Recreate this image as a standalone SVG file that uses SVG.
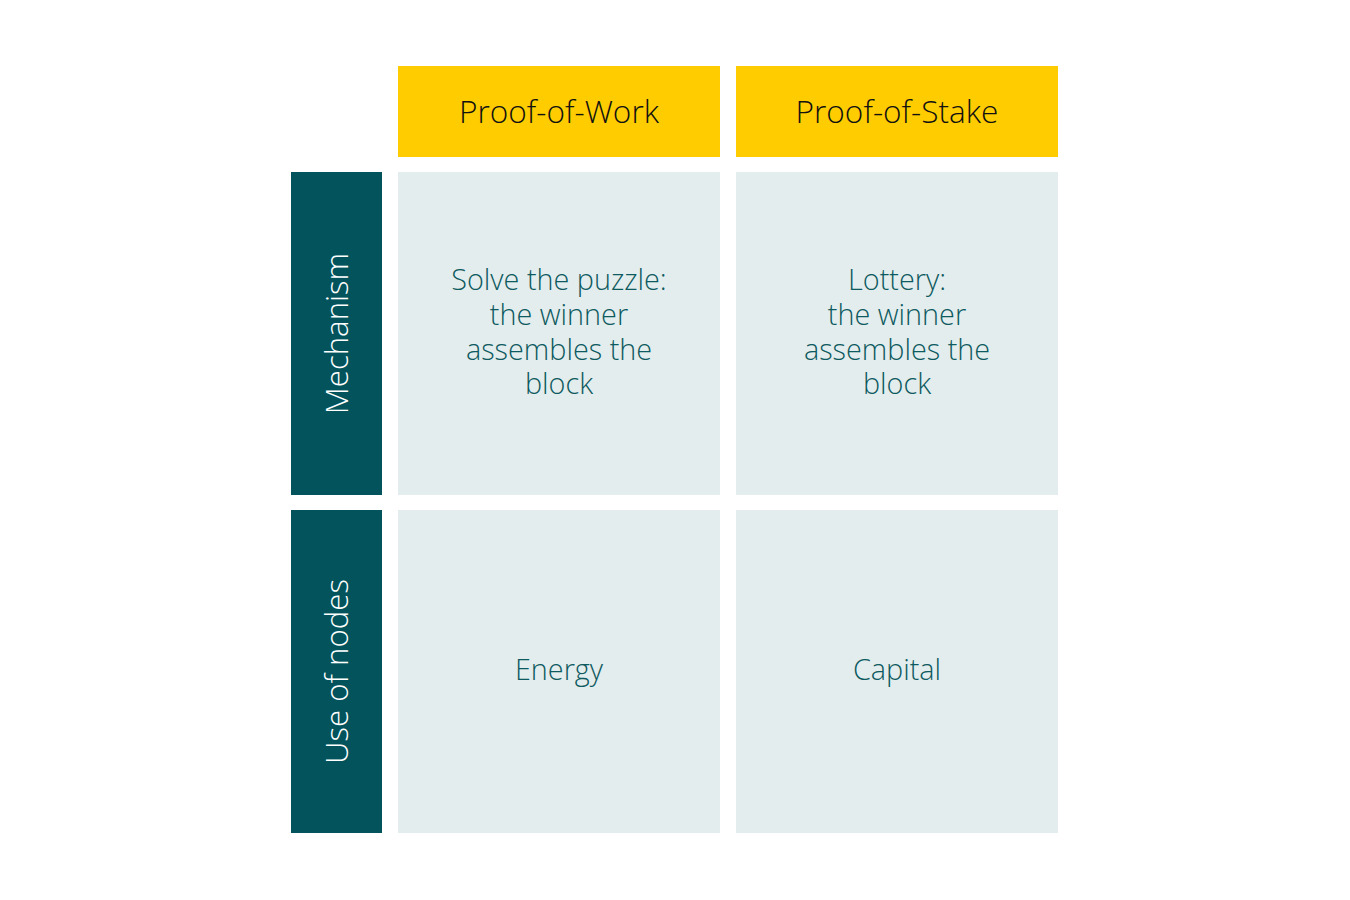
<svg xmlns="http://www.w3.org/2000/svg" width="1350" height="900" viewBox="0 0 1350 900">
<style>
.hdr{fill:#ffcc00}
.side{fill:#02535c}
.cell{fill:#e4eded}
text{font-family:"Open Sans","Noto Sans","Liberation Sans",sans-serif;text-anchor:middle;font-size:28.8px;font-weight:300}
.ht{fill:#111111;font-size:31.6px}
.st{fill:#ffffff;font-size:31.2px}
.ct{fill:#0d5a60}
</style>
<rect width="1350" height="900" fill="#ffffff"/>
<g id="hdr-pow"><rect class="hdr" x="398" y="66" width="322" height="91"/><text class="ht" x="559" y="122.5">Proof-of-Work</text></g>
<g id="hdr-pos"><rect class="hdr" x="736" y="66" width="322" height="91"/><text class="ht" x="897" y="122.5">Proof-of-Stake</text></g>
<g id="side-mech"><rect class="side" x="291" y="172" width="91" height="323"/><text class="st" transform="translate(348,333.5) rotate(-90)">Mechanism</text></g>
<g id="side-use"><rect class="side" x="291" y="510" width="91" height="323"/><text class="st" transform="translate(348,671.5) rotate(-90)">Use of nodes</text></g>
<g id="cell-pow-mech"><rect class="cell" x="398" y="172" width="322" height="323"/><text class="ct" x="559" y="290">Solve the puzzle:</text><text class="ct" x="559" y="325">the winner</text><text class="ct" x="559" y="359.5">assembles the</text><text class="ct" x="559" y="394">block</text></g>
<g id="cell-pos-mech"><rect class="cell" x="736" y="172" width="322" height="323"/><text class="ct" x="897" y="290">Lottery:</text><text class="ct" x="897" y="325">the winner</text><text class="ct" x="897" y="359.5">assembles the</text><text class="ct" x="897" y="394">block</text></g>
<g id="cell-pow-use"><rect class="cell" x="398" y="510" width="322" height="323"/><text class="ct" x="559" y="680">Energy</text></g>
<g id="cell-pos-use"><rect class="cell" x="736" y="510" width="322" height="323"/><text class="ct" x="897" y="680">Capital</text></g>
<g id="connectors"/>
</svg>
